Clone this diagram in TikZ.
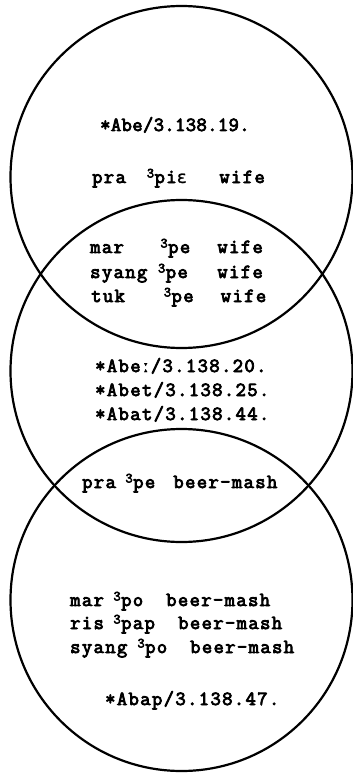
\documentclass[tikz,border=0pt]{standalone}
\usepackage{fontspec}
\newfontfamily\tw{Latin Modern Mono}[FakeBold=4, LetterSpace=7]
\newfontfamily\twn{Latin Modern Mono}[FakeBold=4, LetterSpace=2]
\newfontfamily\ipa{DejaVu Sans Mono}[FakeBold=1]
\newdimen\cwd \cwd=12pt
\newcommand\at[2]{\rlap{\hspace*{#1\cwd}#2}}
\newcommand\tn[1]{\makebox[0pt][r]{\raisebox{5.5pt}{\fontsize{14}{14}\selectfont #1}\hspace{0.5pt}}}
\tikzset{
  ring/.style={circle, draw, line width=2.2pt, minimum size=342pt, inner sep=0pt},
  tline/.style={anchor=base west, inner sep=0pt, font=\tw\fontsize{20}{24}\selectfont},
  nline/.style={anchor=base west, inner sep=0pt, font=\twn\fontsize{20}{24}\selectfont}
}
\begin{document}
\begin{tikzpicture}[x=1pt,y=-1pt]
\useasboundingbox (0,0) rectangle (353,773);
\node[ring] (top) at (181.5,177) {};
\node[ring] (mid) at (181.5,371) {};
\node[ring] (bot) at (181.5,600) {};
% top circle
\node[nline] (t1) at (100,131) {*Abe/3.138.19.};
\node[tline] (t2) at (92,183) {\at{0}{pra}\at{5.2}{\tn{3}pi{\ipa\fontsize{17}{17}\selectfont ɛ}}\at{10.6}{wife}\hspace*{14.6\cwd}};
% top/mid lens
\node[tline] (m1) at (90,253) {\at{0}{mar}\at{6.5}{\tn{3}pe}\at{10.6}{wife}\hspace*{14.6\cwd}};
\node[tline] (m2) at (90,278) {\at{0}{syang}\at{6.3}{\tn{3}pe}\at{10.6}{wife}\hspace*{14.6\cwd}};
\node[tline] (m3) at (91,302) {\at{0}{tuk}\at{6.7}{\tn{3}pe}\at{10.8}{wife}\hspace*{14.8\cwd}};
% middle circle
\node[tline] (c1) at (95,372) {*Abe{\ipa\fontsize{17}{17}\selectfont ː}/3.138.20.};
\node[tline] (c2) at (95,396) {*Abet/3.138.25.};
\node[tline] (c3) at (95,420) {*Abat/3.138.44.};
% mid/bottom lens
\node[tline] (b0) at (82,488) {\at{0}{pra}\at{4.25}{\tn{3}pe}\at{7.6}{beer-mash}\hspace*{16.6\cwd}};
% bottom circle
\node[tline] (b1) at (70,606) {\at{0}{mar}\at{4.25}{\tn{3}po}\at{8}{beer-mash}\hspace*{17\cwd}};
\node[tline] (b2) at (70,629) {\at{0}{ris}\at{4.25}{\tn{3}pap}\at{9}{beer-mash}\hspace*{18\cwd}};
\node[tline] (b3) at (70,653) {\at{0}{syang}\at{6.25}{\tn{3}po}\at{10}{beer-mash}\hspace*{19\cwd}};
\node[tline] (b4) at (105,705) {*Abap/3.138.47.};
\end{tikzpicture}
\end{document}
